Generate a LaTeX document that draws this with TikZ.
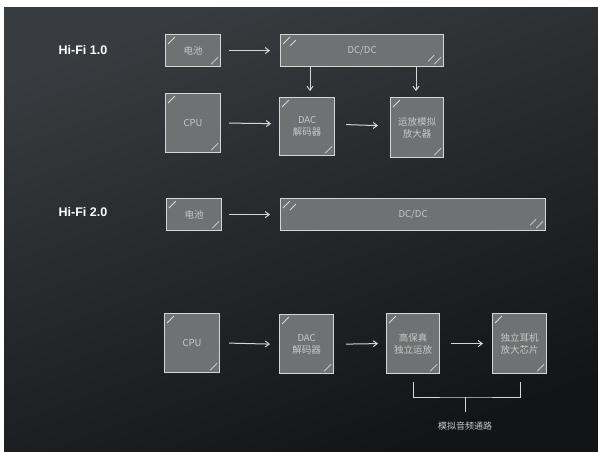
\documentclass[tikz,border=0pt]{standalone}
\usepackage{fontspec}
\setmainfont{Liberation Sans}
\newfontfamily\cjk{Noto Sans CJK SC}
\usetikzlibrary{arrows.meta,shadings,calc}
\definecolor{bgtop}{HTML}{383B3F}
\definecolor{bgbot}{HTML}{121416}
\definecolor{boxfill}{HTML}{707172}
\definecolor{chalk}{HTML}{D6D6D6}
\definecolor{chalktext}{HTML}{C8C8C8}
\tikzset{
  blk/.style={draw=chalk, fill=boxfill, line width=1.2pt, inner sep=0pt,
    font=\cjk\fontsize{9.5}{12}\selectfont, text=chalktext, align=center},
  arr/.style={draw=chalk, line width=1pt, -{Straight Barb[length=4pt,width=6pt]}},
  hifi/.style={text=white, font=\bfseries\fontsize{12.5}{14}\selectfont},
  chalkmark/.style={draw=chalk, line width=0.8pt}
}
\newcommand{\chalkbox}[6]{% name, x1,y1,x2,y2, text
  \node[blk, minimum width=#4-#2, minimum height=#5-#3, anchor=north west] (#1) at (#2,#3) {#6};
  \draw[chalkmark] ($(#1.north west)+(3,10)$) -- ($(#1.north west)+(10,3)$);
  \draw[chalkmark] ($(#1.south east)+(-3,-10)$) -- ($(#1.south east)+(-10,-3)$);
}
\begin{document}
\begin{tikzpicture}[x=1pt,y=-1pt]
\useasboundingbox (0,0) rectangle (598,451);
\fill[white] (0,0) rectangle (598,451);
\shade[top color=bgtop, bottom color=bgbot, shading angle=20] (4,7) rectangle (598,451);
% Hi-Fi 1.0
\node[hifi] (l1) at (83,50) {Hi-Fi 1.0};
\chalkbox{bat1}{165}{34}{220}{66}{电池}
\chalkbox{dc1}{280}{34}{443}{66}{DC/DC}
\draw[chalkmark] ($(dc1.north west)+(10,12)$) -- ($(dc1.north west)+(16,6)$);
\draw[chalkmark] ($(dc1.south east)+(-10,-12)$) -- ($(dc1.south east)+(-16,-6)$);
\chalkbox{cpu1}{165}{93}{220}{152}{CPU}
\chalkbox{dac1}{279}{97}{334}{155}{DAC\\解码器}
\chalkbox{amp1}{390}{97}{443}{157}{运放模拟\\放大器}
\draw[arr] ($(bat1.east)+(8,0)$) -- ($(dc1.west)+(-10,0)$);
\coordinate (d1) at (310,67);
\coordinate (d2) at (416,67);
\coordinate (e1) at (310,91);
\coordinate (e2) at (416,91);
\draw[arr] (d1) -- (e1);
\draw[arr] (d2) -- (e2);
\draw[arr] ($(cpu1.east)+(8,0)$) -- ($(dac1.west)+(-8,-3)$);
\draw[arr] ($(dac1.east)+(11,-2)$) -- ($(amp1.west)+(-12,-2)$);
% Hi-Fi 2.0
\node[hifi] (l2) at (83,212) {Hi-Fi 2.0};
\chalkbox{bat2}{166}{198}{221}{230}{电池}
\chalkbox{dc2}{280}{198}{545}{230}{DC/DC}
\draw[chalkmark] ($(dc2.north west)+(10,12)$) -- ($(dc2.north west)+(16,6)$);
\draw[chalkmark] ($(dc2.south east)+(-10,-12)$) -- ($(dc2.south east)+(-16,-6)$);
\draw[arr] ($(bat2.east)+(7,0)$) -- ($(dc2.west)+(-10,0)$);
\chalkbox{cpu2}{164}{313}{219}{372}{CPU}
\chalkbox{dac2}{279}{314}{333}{373}{DAC\\解码器}
\chalkbox{op2}{386}{313}{439}{373}{高保真\\独立运放}
\chalkbox{hp2}{492}{313}{546}{373}{独立耳机\\放大芯片}
\draw[arr] ($(cpu2.east)+(9,0)$) -- ($(dac2.west)+(-9,0)$);
\draw[arr] ($(dac2.east)+(12,0)$) -- ($(op2.west)+(-8,0)$);
\draw[arr] ($(op2.east)+(11,0)$) -- ($(hp2.west)+(-9,0)$);
% bracket
\coordinate (bl) at (413,382);
\coordinate (br) at (520,382);
\coordinate (bm) at (465,397);
\coordinate (bs) at (465,412);
\draw[draw=chalk, line width=1pt] (bl) |- (bm) -| (br);
\draw[draw=chalk, line width=1pt] (bm) -- (bs);
\node[font=\cjk\fontsize{9}{10}\selectfont, text=chalktext] (lab) at (465,426) {模拟音频通路};
\end{tikzpicture}
\end{document}
